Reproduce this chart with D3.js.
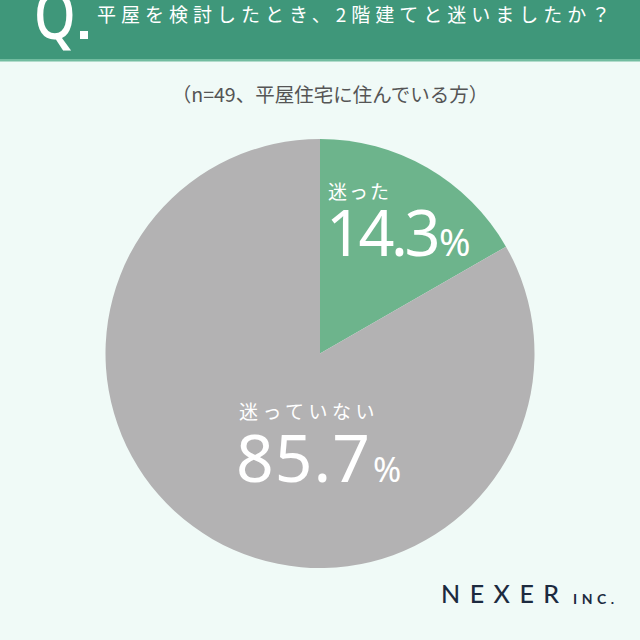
<!DOCTYPE html>
<html><head><meta charset="utf-8">
<script src="https://cdn.jsdelivr.net/npm/d3@7"></script>
<style>html,body{margin:0;padding:0;background:#f0faf7;}svg{display:block;}</style>
</head><body>
<script>
const categories = ["迷った", "迷っていない"];
// percentages printed on the chart
const valueLabels = ["14.3", "85.7"];
// slice sizes as they are drawn in the reference (green wedge spans ~60°)
const sliceShares = [16.7, 83.3];
const colors = ["#6db48c", "#b3b2b3"];
const title = "平屋を検討したとき、2階建てと迷いましたか？";
const subtitle = "（n=49、平屋住宅に住んでいる方）";

const W = 640, H = 640;
const svg = d3.select("body").append("svg").attr("width", W).attr("height", H);
const JP = "'Noto Sans CJK JP','Noto Sans',sans-serif";

svg.append("rect").attr("width", W).attr("height", H).attr("fill", "#f0faf7");
svg.append("rect").attr("width", W).attr("height", 60).attr("fill", "#3f977a");
svg.append("rect").attr("y", 59).attr("width", W).attr("height", 2.5).attr("fill", "#72bca0");

svg.append("text").attr("transform", "translate(34,39) scale(0.78,1)").attr("fill", "#fff")
  .attr("font-family", "'Noto Sans',sans-serif").attr("font-size", 68).attr("font-weight", 500)
  .text("Q");
svg.append("rect").attr("x", 80).attr("y", 31).attr("width", 8).attr("height", 8).attr("fill", "#fff");
svg.append("text").attr("x", 97).attr("y", 22).attr("fill", "#fff")
  .attr("font-family", JP).attr("font-size", 19).attr("letter-spacing", 5).text(title);

svg.append("text").attr("x", 330).attr("y", 102).attr("text-anchor", "middle").attr("fill", "#555")
  .attr("font-family", JP).attr("font-size", 19.5).text(subtitle);

const cx = 320, cy = 353.5, r = 214.5;
const pie = d3.pie().sort(null).value(d => d)(sliceShares);
const arc = d3.arc().innerRadius(0).outerRadius(r);
const g = svg.append("g").attr("transform", `translate(${cx},${cy})`);
g.selectAll("path").data(pie).join("path").attr("d", arc).attr("fill", (d, i) => colors[i]);

// labels
const lab = [
  {x: 328, y: 199, ls: 2, nx: 326, ny: 256, fs: 63, nls: -3.5, pfs: 38},
  {x: 239, y: 419, ls: 4.5, nx: 236, ny: 482, fs: 66, nls: 1, pfs: 34}
];
lab.forEach((p, i) => {
  svg.append("text").attr("x", p.x).attr("y", p.y).attr("fill", "#fff")
    .attr("font-family", JP).attr("font-size", 19).attr("letter-spacing", p.ls).text(categories[i]);
  const t = svg.append("text").attr("x", p.nx).attr("y", p.ny).attr("fill", "#fff")
    .attr("font-family", "'Noto Sans',sans-serif").attr("font-weight", 400);
  t.append("tspan").attr("font-size", p.fs).attr("letter-spacing", p.nls).text(valueLabels[i]);
  t.append("tspan").attr("font-size", p.pfs).attr("dx", 2).text("%");
});

svg.append("text").attr("x", 441).attr("y", 603).attr("fill", "#1c2a3f")
  .attr("font-family", "Lato,'Noto Sans',sans-serif").attr("font-size", 25).attr("font-weight", 500)
  .attr("letter-spacing", 9.5).text("NEXER");
svg.append("text").attr("x", 573).attr("y", 604).attr("fill", "#1c2a3f")
  .attr("font-family", "Lato,'Noto Sans',sans-serif").attr("font-size", 14).attr("font-weight", 700)
  .attr("letter-spacing", 4.5).text("INC.");
</script>
</body></html>
